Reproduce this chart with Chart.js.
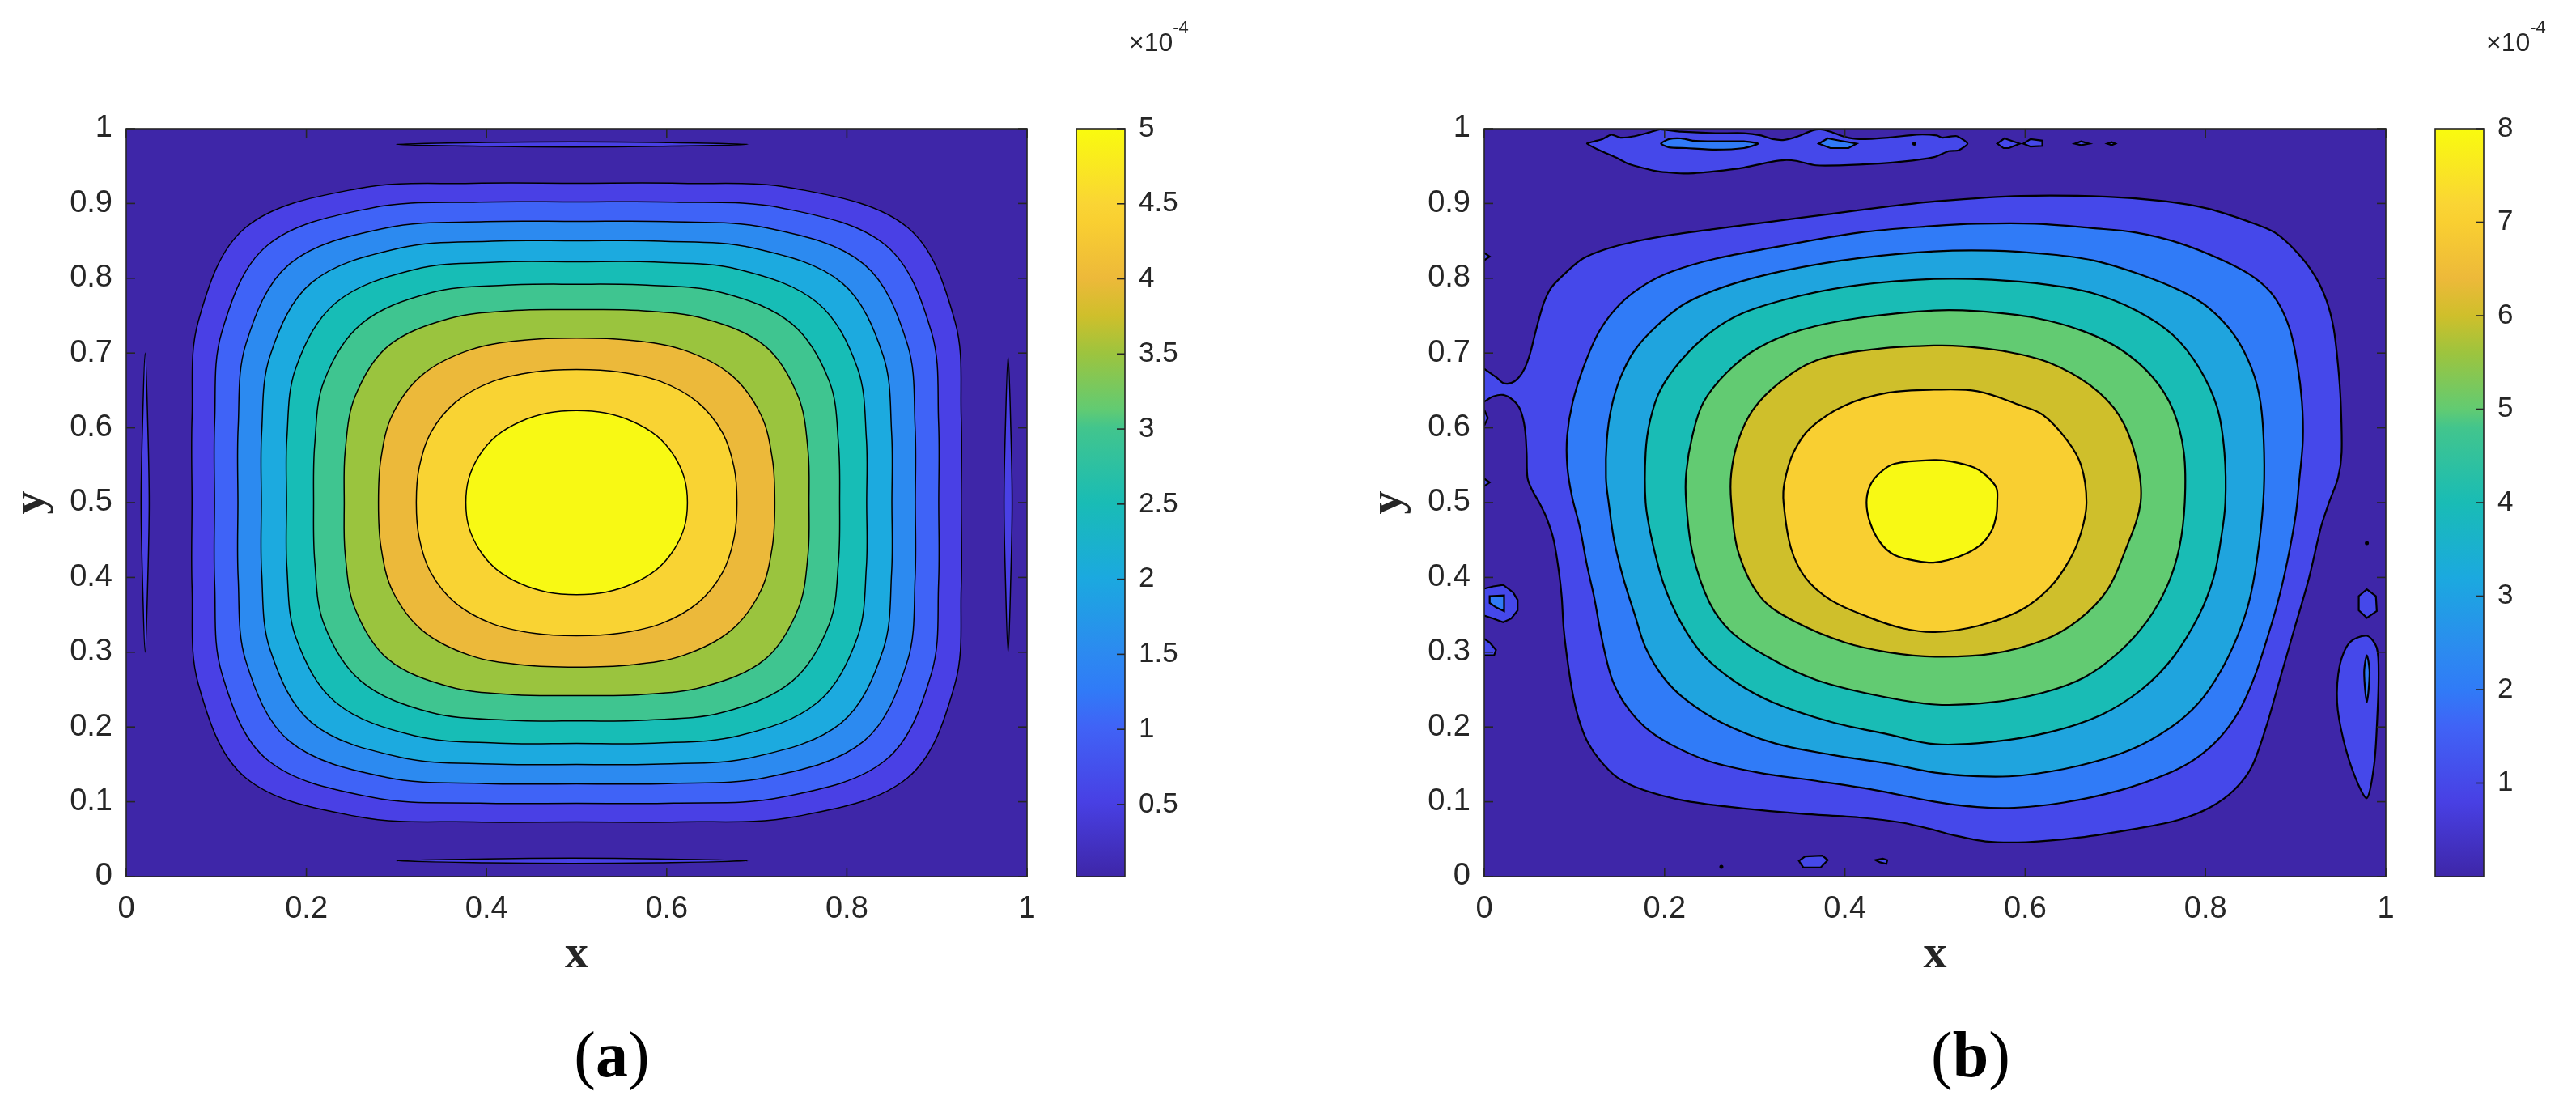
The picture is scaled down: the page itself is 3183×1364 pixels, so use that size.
<!DOCTYPE html>
<html><head><meta charset="utf-8">
<script src="https://cdn.jsdelivr.net/npm/chart.js@4"></script>
<style>
body{margin:0;background:#fff;}
#wrap{position:relative;width:3183px;height:1364px;overflow:hidden;background:#fff;}
canvas{position:absolute;top:0;}
.lbl{position:absolute;font-family:'Liberation Serif','Times New Roman',serif;font-size:80px;line-height:1;color:#000;transform:translateX(-50%);white-space:nowrap;}
.exp{position:absolute;font-family:'Liberation Sans',Arial,sans-serif;font-size:32px;line-height:1;color:#262626;white-space:nowrap;}
.exp span{position:relative;top:-22px;font-size:22px;}
</style></head><body>
<div id="wrap">
<canvas id="cA" width="1591" height="1364" style="left:0"></canvas>
<canvas id="cB" width="1592" height="1364" style="left:1591px"></canvas>
<div class="lbl" style="left:756px;top:1263px">(<b>a</b>)</div>
<div class="lbl" style="left:2435px;top:1263px">(<b>b</b>)</div>
<div class="exp" style="left:1395px;top:36px">×10<span>-4</span></div>
<div class="exp" style="left:3072px;top:36px">×10<span>-4</span></div>
</div>
<script>
// ---------- axes / colorbar ticks ----------
const xTicks = [0, 0.2, 0.4, 0.6, 0.8, 1];
const yTicks = [0, 0.1, 0.2, 0.3, 0.4, 0.5, 0.6, 0.7, 0.8, 0.9, 1];
const cbTicksA = [0.5, 1, 1.5, 2, 2.5, 3, 3.5, 4, 4.5, 5];
const cbRangeA = [0.02, 5];
const cbTicksB = [1, 2, 3, 4, 5, 6, 7, 8];
const cbRangeB = [0, 8];

// ---------- panel (a): nested contours, read as distances from the centre ----------
// radius of each contour (outer -> inner) measured at 0°, 15°, 30° and 45° from the x direction
const leftCenter = [0.5, 0.5];
const leftR0  = [0.427, 0.402, 0.376, 0.350, 0.322, 0.292, 0.258, 0.220, 0.178, 0.123];
const leftR15 = [0.442, 0.416, 0.389, 0.362, 0.333, 0.301, 0.266, 0.225, 0.181, 0.124];
const leftR30 = [0.485, 0.455, 0.424, 0.393, 0.360, 0.324, 0.284, 0.236, 0.187, 0.125];
const leftR45 = [0.520, 0.486, 0.451, 0.416, 0.378, 0.338, 0.296, 0.242, 0.190, 0.126];
const leftFills = ['#3E26A8','#4940E5','#3F63F7','#2C8AF0','#1CAADF','#17BDB6','#3FC590','#9AC43E','#ECB93A','#F9D333','#F8F914'];
const leftLensW = [[0.021,0.700],[0.024,0.600],[0.0255,0.500],[0.024,0.400],[0.021,0.300],[0.018,0.400],[0.0165,0.500],[0.018,0.600]];
const leftLensE = [[0.979,0.695],[0.982,0.600],[0.9835,0.500],[0.982,0.400],[0.979,0.300],[0.976,0.400],[0.9745,0.500],[0.976,0.600]];
const leftLensN = [[0.300,0.979],[0.400,0.9815],[0.495,0.9825],[0.590,0.9815],[0.690,0.979],[0.590,0.9765],[0.495,0.9755],[0.400,0.9765]];
const leftLensS = [[0.300,0.021],[0.400,0.0235],[0.495,0.0245],[0.590,0.0235],[0.690,0.021],[0.590,0.0185],[0.495,0.0175],[0.400,0.0185]];

// ---------- panel (b): traced contour lines ----------
const rightFills = ['#3E26A8','#4548EA','#307BF7','#1FA4DE','#19BCB5','#62CB72','#CFBF2B','#F9CF31','#F8F914'];
const bR1 = [[0.000,0.679],[0.014,0.667],[0.021,0.660],[0.030,0.660],[0.038,0.667],[0.045,0.680],[0.051,0.700],[0.056,0.724],[0.061,0.747],[0.066,0.767],[0.074,0.787],[0.090,0.807],[0.109,0.826],[0.135,0.839],[0.167,0.849],[0.208,0.858],[0.256,0.866],[0.320,0.876],[0.384,0.886],[0.448,0.896],[0.502,0.903],[0.595,0.910],[0.691,0.909],[0.755,0.903],[0.803,0.893],[0.845,0.877],[0.877,0.861],[0.902,0.834],[0.921,0.804],[0.934,0.771],[0.942,0.734],[0.947,0.684],[0.950,0.634],[0.951,0.567],[0.947,0.533],[0.937,0.500],[0.928,0.467],[0.915,0.400],[0.899,0.333],[0.883,0.266],[0.867,0.199],[0.851,0.146],[0.832,0.116],[0.806,0.093],[0.771,0.076],[0.723,0.064],[0.659,0.052],[0.601,0.046],[0.556,0.047],[0.518,0.056],[0.500,0.062],[0.464,0.072],[0.416,0.079],[0.352,0.084],[0.288,0.091],[0.224,0.101],[0.176,0.116],[0.147,0.133],[0.128,0.156],[0.115,0.179],[0.106,0.206],[0.099,0.239],[0.093,0.283],[0.088,0.333],[0.086,0.373],[0.083,0.406],[0.077,0.450],[0.069,0.480],[0.061,0.500],[0.053,0.517],[0.048,0.533],[0.047,0.567],[0.045,0.600],[0.040,0.624],[0.032,0.637],[0.021,0.644],[0.010,0.642],[0.000,0.635]];
const bR2 = [[0.499,0.870],[0.547,0.873],[0.611,0.873],[0.675,0.867],[0.723,0.861],[0.771,0.847],[0.819,0.824],[0.854,0.801],[0.877,0.774],[0.893,0.734],[0.902,0.684],[0.907,0.634],[0.908,0.584],[0.904,0.530],[0.900,0.483],[0.891,0.423],[0.880,0.366],[0.867,0.313],[0.854,0.266],[0.838,0.223],[0.816,0.186],[0.787,0.156],[0.755,0.136],[0.707,0.116],[0.643,0.099],[0.588,0.092],[0.547,0.093],[0.500,0.100],[0.432,0.116],[0.368,0.128],[0.304,0.139],[0.250,0.154],[0.208,0.176],[0.179,0.199],[0.157,0.229],[0.143,0.260],[0.135,0.293],[0.128,0.333],[0.122,0.373],[0.114,0.416],[0.106,0.467],[0.097,0.510],[0.092,0.550],[0.092,0.590],[0.098,0.634],[0.111,0.684],[0.128,0.730],[0.151,0.766],[0.179,0.792],[0.208,0.809],[0.256,0.826],[0.320,0.841],[0.416,0.861]];
const bR3 = [[0.499,0.836],[0.563,0.837],[0.627,0.832],[0.675,0.824],[0.723,0.807],[0.771,0.784],[0.803,0.761],[0.832,0.724],[0.851,0.680],[0.861,0.634],[0.865,0.567],[0.864,0.500],[0.857,0.423],[0.848,0.366],[0.835,0.320],[0.816,0.273],[0.793,0.233],[0.761,0.199],[0.716,0.169],[0.659,0.148],[0.595,0.135],[0.547,0.134],[0.500,0.139],[0.448,0.151],[0.384,0.163],[0.320,0.179],[0.263,0.206],[0.224,0.236],[0.199,0.266],[0.179,0.306],[0.167,0.350],[0.154,0.400],[0.144,0.450],[0.138,0.500],[0.135,0.533],[0.136,0.584],[0.141,0.627],[0.151,0.667],[0.167,0.704],[0.192,0.737],[0.224,0.767],[0.272,0.791],[0.336,0.811],[0.416,0.827]];
const bR4 = [[0.499,0.799],[0.563,0.798],[0.627,0.791],[0.675,0.780],[0.723,0.757],[0.764,0.724],[0.793,0.680],[0.813,0.627],[0.821,0.567],[0.822,0.500],[0.817,0.450],[0.809,0.400],[0.793,0.350],[0.764,0.293],[0.729,0.250],[0.684,0.216],[0.627,0.193],[0.563,0.180],[0.500,0.177],[0.448,0.190],[0.384,0.207],[0.320,0.233],[0.279,0.260],[0.243,0.296],[0.218,0.340],[0.199,0.391],[0.186,0.450],[0.179,0.500],[0.179,0.567],[0.184,0.610],[0.195,0.650],[0.218,0.690],[0.250,0.727],[0.288,0.754],[0.352,0.777],[0.416,0.791]];
const bR5 = [[0.499,0.757],[0.547,0.756],[0.611,0.747],[0.665,0.729],[0.707,0.704],[0.742,0.667],[0.764,0.624],[0.776,0.567],[0.777,0.500],[0.771,0.440],[0.758,0.390],[0.736,0.343],[0.704,0.300],[0.665,0.266],[0.620,0.246],[0.563,0.233],[0.500,0.230],[0.432,0.243],[0.368,0.263],[0.320,0.290],[0.275,0.326],[0.250,0.366],[0.231,0.433],[0.224,0.500],[0.224,0.540],[0.231,0.590],[0.243,0.634],[0.269,0.674],[0.304,0.707],[0.352,0.731],[0.416,0.747]];
const bR6 = [[0.499,0.710],[0.531,0.709],[0.579,0.702],[0.627,0.687],[0.672,0.657],[0.704,0.617],[0.723,0.560],[0.728,0.500],[0.710,0.433],[0.691,0.383],[0.659,0.343],[0.620,0.316],[0.563,0.298],[0.500,0.294],[0.448,0.300],[0.400,0.313],[0.346,0.340],[0.307,0.373],[0.282,0.433],[0.274,0.500],[0.274,0.540],[0.282,0.584],[0.298,0.624],[0.327,0.660],[0.368,0.690],[0.432,0.705]];
const bR7 = [[0.499,0.651],[0.547,0.649],[0.595,0.630],[0.620,0.617],[0.646,0.584],[0.662,0.550],[0.668,0.500],[0.662,0.460],[0.649,0.423],[0.627,0.386],[0.595,0.356],[0.547,0.335],[0.500,0.327],[0.464,0.332],[0.426,0.347],[0.384,0.370],[0.356,0.400],[0.340,0.440],[0.332,0.500],[0.333,0.527],[0.343,0.567],[0.362,0.600],[0.400,0.630],[0.448,0.647]];
const bR8 = [[0.499,0.557],[0.518,0.555],[0.543,0.547],[0.556,0.537],[0.568,0.520],[0.569,0.500],[0.568,0.483],[0.563,0.463],[0.550,0.443],[0.527,0.428],[0.500,0.420],[0.480,0.422],[0.455,0.430],[0.439,0.447],[0.428,0.473],[0.424,0.500],[0.428,0.523],[0.439,0.540],[0.455,0.552]];
const bTopBand = [[0.114,0.980],[0.122,0.983],[0.131,0.986],[0.141,0.992],[0.151,0.988],[0.167,0.990],[0.183,0.995],[0.195,0.999],[0.218,0.996],[0.256,0.994],[0.288,0.994],[0.307,0.991],[0.320,0.986],[0.333,0.985],[0.346,0.989],[0.365,0.998],[0.373,0.999],[0.384,0.996],[0.400,0.989],[0.416,0.986],[0.448,0.988],[0.480,0.992],[0.502,0.991],[0.508,0.988],[0.524,0.990],[0.536,0.980],[0.526,0.971],[0.515,0.970],[0.499,0.962],[0.464,0.956],[0.416,0.952],[0.368,0.951],[0.346,0.957],[0.333,0.958],[0.320,0.956],[0.288,0.948],[0.256,0.943],[0.224,0.940],[0.192,0.943],[0.160,0.953],[0.147,0.961],[0.128,0.971]];
const bTopIsl1 = [[0.196,0.980],[0.205,0.986],[0.218,0.987],[0.231,0.984],[0.256,0.983],[0.288,0.983],[0.304,0.980],[0.288,0.974],[0.256,0.972],[0.224,0.974],[0.205,0.975]];
const bTopIsl2 = [[0.371,0.980],[0.381,0.987],[0.394,0.984],[0.413,0.980],[0.404,0.974],[0.384,0.974]];
const bTopIsl3 = [[0.569,0.980],[0.577,0.987],[0.594,0.980],[0.582,0.974],[0.576,0.974]];
const bTopIsl4 = [[0.598,0.980],[0.606,0.986],[0.619,0.984],[0.619,0.977],[0.606,0.976]];
const bTopIsl5 = [[0.655,0.980],[0.662,0.983],[0.671,0.980],[0.662,0.978]];
const bTopIsl6 = [[0.691,0.980],[0.696,0.982],[0.700,0.980],[0.696,0.978]];
const bEdgeW1 = [[0,0.834],[0.006,0.829],[0,0.824]];
const bEdgeW2 = [[0,0.624],[0.004,0.613],[0,0.603]];
const bEdgeW3 = [[0,0.532],[0.006,0.527],[0,0.522]];
const bEdgeW4 = [[0.000,0.385],[0.010,0.388],[0.021,0.390],[0.032,0.380],[0.037,0.370],[0.037,0.356],[0.030,0.345],[0.021,0.340],[0.010,0.345],[0.000,0.349]];
const bEdgeW4in = [[0.006,0.375],[0.022,0.376],[0.022,0.355],[0.013,0.360],[0.006,0.366]];
const bEdgeW5 = [[0,0.318],[0.006,0.313],[0.013,0.303],[0.011,0.296],[0,0.296]];
const bBotIsl1 = [[0.349,0.021],[0.356,0.027],[0.375,0.028],[0.381,0.022],[0.373,0.012],[0.354,0.012]];
const bBotIsl2 = [[0.434,0.022],[0.442,0.024],[0.447,0.022],[0.446,0.017],[0.439,0.019]];
const bRightIsl1 = [[0.970,0.375],[0.979,0.384],[0.989,0.375],[0.990,0.355],[0.979,0.346],[0.970,0.356]];
const bRightIsl2 = [[0.979,0.322],[0.990,0.306],[0.992,0.266],[0.990,0.199],[0.987,0.149],[0.979,0.105],[0.966,0.133],[0.953,0.183],[0.946,0.233],[0.949,0.283],[0.960,0.313]];
const bRightIsl2in = [[0.979,0.296],[0.982,0.273],[0.979,0.233],[0.976,0.273]];
const bDots = [[0.477,0.980],[0.263,0.013],[0.979,0.446]];

// ---------- colour map for the colour bars (parula-like) ----------
const parulaStops = [[0,'#3E26A8'],[0.1,'#4840E4'],[0.2,'#4063F6'],[0.25,'#307BF7'],[0.3,'#2C8AF0'],[0.4,'#1BA9DF'],[0.5,'#19BCB5'],[0.6,'#42C58D'],[0.625,'#62CB72'],[0.7,'#9DC43E'],[0.75,'#CFBF2B'],[0.8,'#EDB93A'],[0.875,'#F9CF31'],[0.9,'#FAD534'],[1,'#F9FB0E']];

const SANS = "'Liberation Sans', Arial, Helvetica, sans-serif";
const SERIF = "'Liberation Serif', 'Times New Roman', serif";
const INK = '#262626';

function toXY(pts){ return pts.map(p => ({x: p[0], y: p[1]})); }
function contour(label, pts, fillColor, lw, tension, closed){
  return {label, data: toXY(pts), fillColor, closed, borderColor:'#000', borderWidth: lw,
          tension, pointRadius:0, pointHoverRadius:0, fill:false, spanGaps:false};
}
// closed contour from its radii read at 0/15/30/45 degrees, mirrored into the other octants
function ringPoints(i, c){
  const rr = [leftR0[i], leftR15[i], leftR30[i], leftR45[i], leftR30[i], leftR15[i]];
  const pts = [];
  for (let k = 0; k < 24; k++){
    const ang = k * Math.PI / 12;
    const r = rr[k % 6];
    pts.push([c[0] + r*Math.cos(ang), c[1] + r*Math.sin(ang)]);
  }
  return pts;
}

const contourPlugin = {
  id: 'contour',
  afterDatasetUpdate(chart, args){
    const ds = chart.data.datasets[args.index];
    const line = args.meta.dataset;
    if (line && ds.closed){
      line._loop = true; line._fullLoop = true;
      delete line._segments; delete line._path; line._pointsUpdated = false;
    }
  },
  beforeDatasetsDraw(chart, args, opts){
    const {ctx, chartArea:a} = chart;
    ctx.save(); ctx.fillStyle = opts.background; ctx.fillRect(a.left, a.top, a.width, a.height); ctx.restore();
  },
  beforeDatasetDraw(chart, args){
    const ds = chart.data.datasets[args.index];
    const line = args.meta.dataset;
    if (!line || !ds.fillColor || !line.points || !line.points.length) return;
    const a = chart.chartArea, ctx = chart.ctx;
    line.updateControlPoints(a, args.meta.indexAxis);
    ctx.save();
    ctx.beginPath(); ctx.rect(a.left, a.top, a.width, a.height); ctx.clip();
    ctx.beginPath(); line.path(ctx); ctx.closePath();
    ctx.fillStyle = ds.fillColor; ctx.fill();
    ctx.restore();
  },
  afterDatasetsDraw(chart, args, opts){
    const {ctx, chartArea:a} = chart;
    const xs = chart.scales.x, ys = chart.scales.y, cb = chart.scales.cb;
    ctx.save();
    ctx.strokeStyle = INK; ctx.lineWidth = 1.6;
    const seg = (x1,y1,x2,y2) => { ctx.beginPath(); ctx.moveTo(x1,y1); ctx.lineTo(x2,y2); ctx.stroke(); };
    const TL = 11;
    xs.ticks.forEach(t => { const p = xs.getPixelForValue(t.value); seg(p, a.bottom, p, a.bottom-TL); seg(p, a.top, p, a.top+TL); });
    ys.ticks.forEach(t => { const p = ys.getPixelForValue(t.value); seg(a.left, p, a.left+TL, p); seg(a.right, p, a.right-TL, p); });
    ctx.strokeRect(a.left, a.top, a.width, a.height);
    // colour bar
    const x0 = a.right + 61, x1 = a.right + 121;
    const yTop = cb.getPixelForValue(cb.max), yBot = cb.getPixelForValue(cb.min);
    const g = ctx.createLinearGradient(0, yBot, 0, yTop);
    parulaStops.forEach(s => g.addColorStop(s[0], s[1]));
    ctx.fillStyle = g; ctx.fillRect(x0, yTop, x1-x0, yBot-yTop);
    cb.ticks.forEach(t => { const p = cb.getPixelForValue(t.value); seg(x1, p, x1-10, p); });
    ctx.strokeRect(x0, yTop, x1-x0, yBot-yTop);
    ctx.restore();
  }
};

function makeChart(id, datasets, o){
  datasets.forEach((d, i) => { d.order = -i; });
  return new Chart(document.getElementById(id), {
    type: 'line',
    data: { datasets },
    plugins: [contourPlugin],
    options: {
      responsive: false, animation: false, devicePixelRatio: 1, events: [],
      layout: { padding: { top: 85, left: 0, right: 0, bottom: 0 } },
      plugins: { legend: {display:false}, tooltip: {enabled:false}, contour: { background: o.bg } },
      scales: {
        x: { type:'linear', position:'bottom', min:0, max:1,
             afterBuildTicks: s => { s.ticks = xTicks.map(v => ({value:v})); },
             afterFit: s => { s.height = 281; },
             grid:{display:false, drawTicks:false}, border:{display:false},
             ticks:{ padding:18, color:INK, font:{family:SANS, size:38}, maxRotation:0, autoSkip:false, callback: v => String(v) },
             title:{ display:true, text:'x', color:INK, font:{family:SERIF, size:58, weight:'bold', lineHeight:1}, padding:{top:0, bottom:155} } },
        y: { type:'linear', position:'left', min:0, max:1,
             afterBuildTicks: s => { s.ticks = yTicks.map(v => ({value:v})); },
             afterFit: s => { s.width = o.yW; },
             grid:{display:false, drawTicks:false}, border:{display:false},
             ticks:{ padding:17, color:INK, font:{family:SANS, size:38}, autoSkip:false, callback: v => String(v) },
             title:{ display:true, text:'y', color:INK, font:{family:SERIF, size:58, weight:'bold', lineHeight:1}, padding:{top:o.yTitlePad, bottom:0} } },
        cb: { type:'linear', position:'right', min:o.cbRange[0], max:o.cbRange[1],
             afterBuildTicks: s => { s.ticks = o.cbTicks.map(v => ({value:v})); },
             afterFit: s => { s.width = o.cbW; },
             grid:{display:false, drawTicks:false}, border:{display:false},
             ticks:{ padding:138, color:INK, font:{family:SANS, size:35}, autoSkip:false, callback: v => String(v) } }
      }
    }
  });
}

// ----- panel (a) datasets -----
const dsA = [];
dsA.push(contour('edge W', leftLensW, leftFills[1], 1.5, 0.35, true));
dsA.push(contour('edge E', leftLensE, leftFills[1], 1.5, 0.35, true));
dsA.push(contour('edge N', leftLensN, leftFills[1], 1.5, 0.35, true));
dsA.push(contour('edge S', leftLensS, leftFills[1], 1.5, 0.35, true));
leftR0.forEach((a, i) => {
  dsA.push(contour('contour ' + (i+1), ringPoints(i, leftCenter), leftFills[i+1], 1.5, 0.35, true));
});
makeChart('cA', dsA, { bg: leftFills[0], yW: 156, cbW: 322, yTitlePad: 10, cbRange: cbRangeA, cbTicks: cbTicksA });

// ----- panel (b) datasets -----
const LW = 2.2;
const dsB = [];
dsB.push(contour('level 1', bR1, rightFills[1], LW, 0.3, false));
dsB.push(contour('level 1 top band', bTopBand, rightFills[1], LW, 0.2, true));
[bTopIsl3, bTopIsl4, bTopIsl5, bTopIsl6].forEach((p, i) => dsB.push(contour('top island ' + i, p, rightFills[1], LW, 0, true)));
[bEdgeW1, bEdgeW2, bEdgeW3, bEdgeW4, bEdgeW5].forEach((p, i) => dsB.push(contour('left island ' + i, p, rightFills[1], LW, 0, false)));
dsB.push(contour('left island inner', bEdgeW4in, rightFills[2], LW, 0, true));
[bBotIsl1, bBotIsl2].forEach((p, i) => dsB.push(contour('bottom island ' + i, p, rightFills[1], LW, 0, true)));
dsB.push(contour('right island 1', bRightIsl1, rightFills[1], LW, 0, true));
dsB.push(contour('right island 2', bRightIsl2, rightFills[1], LW, 0.3, true));
dsB.push(contour('right island 2 inner', bRightIsl2in, rightFills[2], LW, 0.3, true));
dsB.push(contour('band island 1', bTopIsl1, rightFills[2], LW, 0.2, true));
dsB.push(contour('band island 2', bTopIsl2, rightFills[2], LW, 0, true));
[bR2, bR3, bR4, bR5, bR6, bR7, bR8].forEach((p, i) => dsB.push(contour('level ' + (i+2), p, rightFills[i+2], LW, 0.35, true)));
dsB.push({label:'dots', data: toXY(bDots), showLine:false, pointRadius:2.5, pointBackgroundColor:'#000', pointBorderWidth:0, fill:false});
makeChart('cB', dsB, { bg: rightFills[0], yW: 243, cbW: 235, yTitlePad: 96, cbRange: cbRangeB, cbTicks: cbTicksB });
</script>
</body></html>
